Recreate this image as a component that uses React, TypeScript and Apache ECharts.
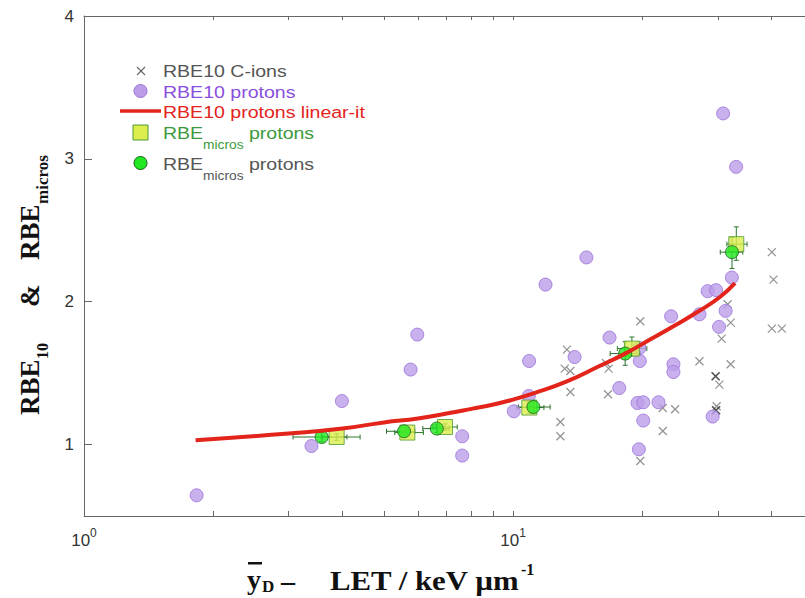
import React, { useEffect, useRef } from "react";
import * as echarts from "echarts";

// RBE10 for carbon ions: [LET keV/um, RBE]
const cIonPoints: [number, number][] = [
  [13.35, 1.665], [13.19, 1.532], [13.6, 1.515], [13.6, 1.368], [12.89, 1.158],
  [12.89, 1.058], [16.46, 1.571], [16.7, 1.532], [16.64, 1.352], [19.79, 1.863],
  [22.33, 1.256], [23.86, 1.247], [22.33, 1.095], [19.79, 0.885], [27.19, 1.583],
  [31.62, 1.982], [32.14, 1.854], [30.62, 1.742], [32.14, 1.562], [30.25, 1.42],
  [29.81, 1.268], [40.09, 2.347], [40.45, 2.155], [40.09, 1.812], [42.3, 1.812],
];
// overlapping C-ion points (drawn darker)
const cIonDense: [number, number][] = [
  [29.65, 1.478], [29.72, 1.24],
];

// RBE10 for protons
const protonPoints: [number, number][] = [
  [14.82, 2.31], [11.9, 2.12], [10.9, 1.585], [13.91, 1.613], [10.88, 1.34],
  [10.04, 1.233], [16.78, 1.749], [19.71, 1.676], [19.74, 1.585], [17.68, 1.396],
  [19.5, 1.291], [20.11, 1.296], [21.82, 1.296], [20.11, 1.168], [19.64, 0.967],
  [23.64, 1.562], [23.64, 1.508], [23.35, 1.898], [27.19, 1.912], [28.41, 2.074],
  [29.72, 2.081], [32.35, 2.169], [31.28, 1.936], [30.2, 1.824], [29.18, 1.196],
  [30.87, 3.318], [33.1, 2.944], [5.98, 1.77], [5.77, 1.525], [3.99, 1.305],
  [3.39, 0.99], [7.61, 1.058], [7.61, 0.923], [1.83, 0.645],
];

// linear fit to proton RBE10
const protonFit: [number, number][] = [
  [1.82, 1.03], [3, 1.077], [4, 1.112], [5, 1.155], [6, 1.182], [7, 1.217],
  [8, 1.25], [9, 1.28], [10, 1.315], [11.2, 1.36], [13.3, 1.44], [15.9, 1.55],
  [18.2, 1.635], [21, 1.74], [23.7, 1.83], [27.3, 1.94], [30.4, 2.035], [32.9, 2.13],
];

// RBEmicros (two models): [x, y, xLow, xHigh, yLow, yHigh]
const microsSquares: number[][] = [
  [3.88, 1.053, 3.6, 4.4, 1.03, 1.075],
  [5.67, 1.084, 5.3, 6.18, 1.06, 1.105],
  [6.94, 1.123, 6.5, 7.41, 1.1, 1.145],
  [10.91, 1.259, 10.2, 11.8, 1.22, 1.3],
  [18.92, 1.672, 17.5, 20.5, 1.62, 1.753],
  [33.13, 2.403, 31.5, 35.1, 2.29, 2.524],
];
const microsCircles: number[][] = [
  [3.58, 1.053, 3.07, 4.1, 1.02, 1.085],
  [5.57, 1.093, 5.07, 5.9, 1.065, 1.12],
  [6.64, 1.112, 6.16, 7.1, 1.085, 1.14],
  [11.15, 1.263, 10.3, 12.2, 1.23, 1.3],
  [18.25, 1.637, 16.84, 19.8, 1.555, 1.72],
  [32.37, 2.347, 30.4, 34.3, 2.232, 2.45],
];

const xTickValues = [1, 2, 3, 4, 5, 6, 7, 8, 9, 10, 20, 30, 40, 50];
const xLabelValues = [1, 10];
const yTickValues = [1, 2, 3, 4];

const SANS = "'Liberation Sans', Arial, sans-serif";
const SERIF = "'Liberation Serif', 'Times New Roman', serif";
const AXIS_COLOR = "#666";

const CROSS = "path://M0,0L10,10M10,0L0,10";

function errorBarRenderer(color: string) {
  return (_params: any, api: any) => {
    const x = api.value(0);
    const y = api.value(1);
    const pL = api.coord([api.value(2), y]);
    const pR = api.coord([api.value(3), y]);
    const pB = api.coord([x, api.value(4)]);
    const pT = api.coord([x, api.value(5)]);
    const cap = 2.5;
    const style = { stroke: color, lineWidth: 1, fill: null };
    const seg = (x1: number, y1: number, x2: number, y2: number) => ({
      type: "line",
      shape: { x1, y1, x2, y2 },
      style,
    });
    return {
      type: "group",
      children: [
        seg(pL[0], pL[1], pR[0], pR[1]),
        seg(pL[0], pL[1] - cap, pL[0], pL[1] + cap),
        seg(pR[0], pR[1] - cap, pR[0], pR[1] + cap),
        seg(pB[0], pB[1], pT[0], pT[1]),
        seg(pB[0] - cap, pB[1], pB[0] + cap, pB[1]),
        seg(pT[0] - cap, pT[1], pT[0] + cap, pT[1]),
      ],
    };
  };
}

const legendText = (text: string, x: number, y: number, color: string, size = 17) => ({
  type: "text",
  x,
  y,
  scaleX: 1.15,
  style: {
    text,
    fill: color,
    font: `${size}px ${SANS}`,
    align: "left",
    verticalAlign: "middle",
  },
});

const serifText = (text: string, x: number, y: number, size: number, scaleX = 1) => ({
  type: "text",
  x,
  y,
  scaleX,
  style: {
    text,
    fill: "#111",
    font: `bold ${size}px ${SERIF}`,
    align: "left",
    verticalAlign: "middle",
  },
});

export default function App() {
  const ref = useRef<HTMLDivElement>(null);

  useEffect(() => {
    if (!ref.current) return;
    const chart = echarts.init(ref.current, undefined, { renderer: "svg" });

    const xAxisBase = {
      type: "log",
      logBase: 10,
      min: 1,
      max: 50,
      splitLine: { show: false },
      axisLine: { show: true, lineStyle: { color: AXIS_COLOR, width: 1 } },
    };
    const yAxisBase = {
      type: "value",
      min: 0.5,
      max: 4,
      splitLine: { show: false },
      axisLine: { show: true, lineStyle: { color: AXIS_COLOR, width: 1 } },
    };

    const option: any = {
      animation: false,
      backgroundColor: "#fff",
      grid: {
        left: 84,
        right: -8,
        top: 16,
        bottom: 82,
        containLabel: false,
        outerBoundsMode: "none",
      },
      xAxis: [
        {
          ...xAxisBase,
          position: "bottom",
          axisTick: {
            inside: true,
            length: 5,
            customValues: xTickValues,
            lineStyle: { color: AXIS_COLOR },
          },
          axisLabel: {
            customValues: xLabelValues,
            margin: 11,
            formatter: (v: number) => `{b|10}{s|${Math.round(Math.log10(v))}}`,
            rich: {
              b: { fontSize: 17, fontFamily: SANS, color: "#333", lineHeight: 22, verticalAlign: "bottom" },
              s: { fontSize: 12, fontFamily: SANS, color: "#333", lineHeight: 14, verticalAlign: "top" },
            },
          },
        },
        {
          ...xAxisBase,
          position: "top",
          axisTick: {
            inside: true,
            length: 4,
            customValues: xTickValues,
            lineStyle: { color: AXIS_COLOR },
          },
          axisLabel: { show: false },
        },
      ],
      yAxis: [
        {
          ...yAxisBase,
          position: "left",
          axisTick: {
            inside: true,
            length: 8,
            customValues: yTickValues,
            lineStyle: { color: AXIS_COLOR },
          },
          axisLabel: {
            customValues: yTickValues,
            fontSize: 17,
            fontFamily: SANS,
            color: "#333",
            margin: 10,
          },
        },
        {
          ...yAxisBase,
          position: "right",
          axisTick: {
            inside: true,
            length: 8,
            customValues: yTickValues,
            lineStyle: { color: AXIS_COLOR },
          },
          axisLabel: { show: false },
        },
      ],
      series: [
        {
          name: "RBE10 C-ions",
          type: "scatter",
          data: cIonPoints,
          symbol: CROSS,
          symbolSize: 8,
          itemStyle: { color: "rgba(0,0,0,0)", borderColor: "#777", borderWidth: 1.2 },
        },
        {
          name: "RBE10 C-ions dense",
          type: "scatter",
          data: cIonDense,
          symbol: CROSS,
          symbolSize: 8,
          itemStyle: { color: "rgba(0,0,0,0)", borderColor: "#222", borderWidth: 1.6 },
        },
        {
          name: "RBE10 protons",
          type: "scatter",
          data: protonPoints,
          symbol: "circle",
          symbolSize: 13,
          itemStyle: { color: "#bc9de8", borderColor: "#9b72da", borderWidth: 1 },
        },
        {
          name: "RBE10 protons linear-it",
          type: "line",
          data: protonFit,
          smooth: true,
          showSymbol: false,
          lineStyle: { color: "#e3241b", width: 4 },
        },
        {
          name: "square errors",
          type: "custom",
          data: microsSquares,
          dimensions: ["x", "y", "xlo", "xhi", "ylo", "yhi"],
          encode: { x: 0, y: 1 },
          renderItem: errorBarRenderer("#2d7a2d"),
        },
        {
          name: "RBEmicros protons (square)",
          type: "scatter",
          data: microsSquares.map((d) => [d[0], d[1]]),
          symbol: "rect",
          symbolSize: 15,
          itemStyle: { color: "#dcee4e", borderColor: "#4f9a35", borderWidth: 1 },
        },
        {
          name: "circle errors",
          type: "custom",
          data: microsCircles,
          dimensions: ["x", "y", "xlo", "xhi", "ylo", "yhi"],
          encode: { x: 0, y: 1 },
          renderItem: errorBarRenderer("#2d6e2d"),
        },
        {
          name: "RBEmicros protons (circle)",
          type: "scatter",
          data: microsCircles.map((d) => [d[0], d[1]]),
          symbol: "circle",
          symbolSize: 13,
          itemStyle: { color: "#22e822", borderColor: "#1d5e1d", borderWidth: 1 },
        },
      ],
      graphic: [
        // legend
        {
          type: "group",
          z: 100,
          children: [
            { type: "line", shape: { x1: 137, y1: 67, x2: 145, y2: 75 }, style: { stroke: "#666", lineWidth: 1.1 } },
            { type: "line", shape: { x1: 145, y1: 67, x2: 137, y2: 75 }, style: { stroke: "#666", lineWidth: 1.1 } },
            legendText("RBE10 C-ions", 163, 71, "#555"),
            { type: "circle", shape: { cx: 140.5, cy: 91, r: 6.5 }, style: { fill: "#bc9de8", stroke: "#9b72da", lineWidth: 1 } },
            legendText("RBE10 protons", 163, 92, "#8a4ee0"),
            { type: "line", shape: { x1: 120, y1: 111, x2: 161, y2: 111 }, style: { stroke: "#e3241b", lineWidth: 3.5 } },
            legendText("RBE10 protons linear-it", 163, 111.5, "#e3241b"),
            { type: "rect", shape: { x: 133, y: 125, width: 15, height: 15 }, style: { fill: "#dcee4e", stroke: "#4f9a35", lineWidth: 1 } },
            legendText("RBE", 163, 132.5, "#3c9a3c"),
            legendText("micros", 203, 145, "#3c9a3c", 12),
            legendText("protons", 249, 132.5, "#3c9a3c"),
            { type: "circle", shape: { cx: 140.5, cy: 163, r: 6.5 }, style: { fill: "#22e822", stroke: "#1d5e1d", lineWidth: 1 } },
            legendText("RBE", 163, 163.5, "#555"),
            legendText("micros", 203, 176, "#555", 12),
            legendText("protons", 249, 163.5, "#555"),
          ],
        },
        // x axis title
        {
          type: "group",
          z: 100,
          children: [
            { type: "rect", shape: { x: 248, y: 562, width: 14, height: 2.5 }, style: { fill: "#111" } },
            serifText("y", 247, 579, 28),
            serifText("D", 262, 586, 17),
            serifText("–", 281, 580, 28),
            serifText("LET / keV µm", 330, 580, 28, 1.1),
            serifText("-1", 521, 569, 16),
          ],
        },
        // y axis title
        {
          type: "group",
          z: 100,
          x: 30,
          y: 415,
          rotation: Math.PI / 2,
          children: [
            serifText("RBE", 0, 0, 27),
            serifText("10", 56, 12, 16),
            serifText("&", 108, 0, 27),
            serifText("RBE", 155, 0, 27),
            serifText("micros", 211, 12, 17),
          ],
        },
      ],
    };

    chart.setOption(option);
    return () => chart.dispose();
  }, []);

  return (
    <div
      ref={ref}
      style={{ position: "fixed", left: 0, top: 0, width: 805, height: 598, background: "#fff" }}
    />
  );
}
